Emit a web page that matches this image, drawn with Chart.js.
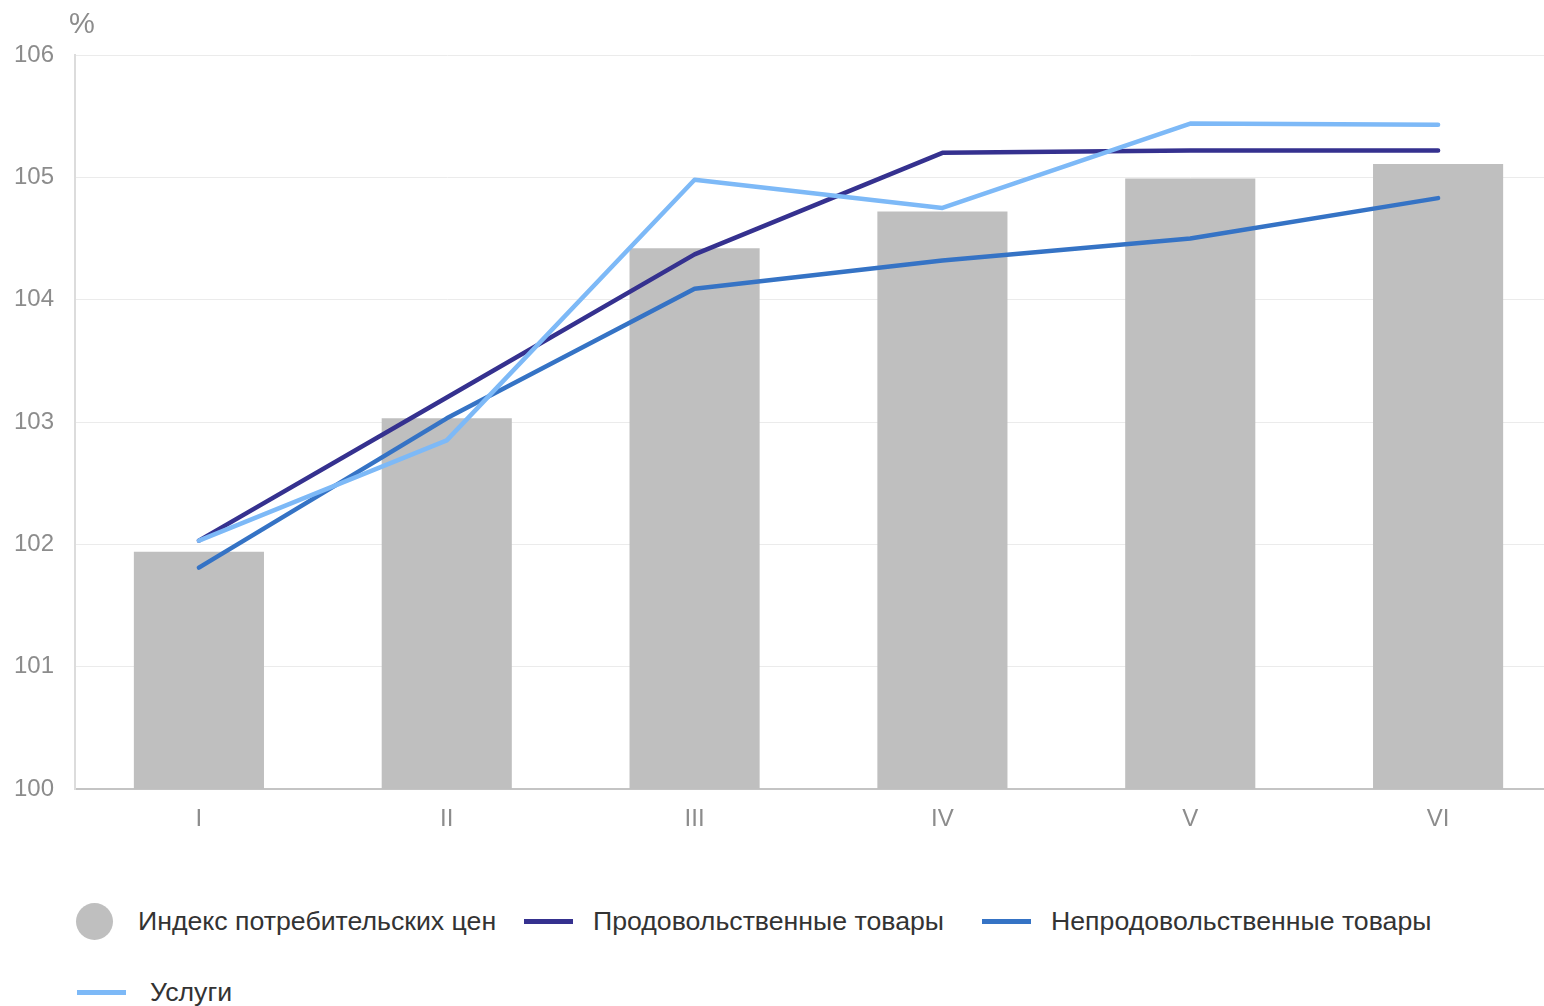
<!DOCTYPE html>
<html>
<head>
<meta charset="utf-8">
<script src="https://cdn.jsdelivr.net/npm/chart.js@4"></script>
<style>
  body { margin: 0; background: #fff; overflow: hidden; width: 1544px; height: 1006px; position: relative;
         font-family: "Liberation Sans", Arial, sans-serif; }
  #unit { position: absolute; left: 69px; top: 7px; font-size: 29px; color: #8c8c8c; }
  .item { position: absolute; display: flex; align-items: center; font-size: 26.7px; color: #333; white-space: nowrap; }
  .dot { width: 37px; height: 37px; border-radius: 50%; background: #bfbfbf; margin-right: 25px; }
  .ln { width: 49px; height: 5px; margin-right: 20px; }
</style>
</head>
<body>
<div id="unit">%</div>
<canvas id="grafico" width="1562" height="850"></canvas>
<div id="legenda"></div>
<script>
// Данные
const meses = ["I", "II", "III", "IV", "V", "VI"];
const ipc = [101.94, 103.03, 104.42, 104.72, 104.99, 105.11];
const prodTovary = [102.03, 103.2, 104.37, 105.2, 105.22, 105.22];
const neprodTovary = [101.81, 103.03, 104.09, 104.32, 104.5, 104.83];
const uslugi = [102.03, 102.85, 104.98, 104.75, 105.44, 105.43];

const cores = {
    ipc: "#bfbfbf",
    prod: "#35318f",
    neprod: "#3573c5",
    usl: "#7db9f7"
};

function linha(label, data, cor, ordem) {
    return {
        type: "line",
        label: label,
        data: data,
        borderColor: cor,
        backgroundColor: cor,
        borderWidth: 4.5,
        borderCapStyle: "round",
        borderJoinStyle: "round",
        pointRadius: 0,
        tension: 0,
        order: ordem
    };
}

const ctx = document.getElementById("grafico").getContext("2d");
new Chart(ctx, {
    data: {
        labels: meses,
        datasets: [
            {
                type: "bar",
                label: "Индекс потребительских цен",
                data: ipc,
                backgroundColor: cores.ipc,
                barPercentage: 0.525,
                categoryPercentage: 1,
                order: 10
            },
            linha("Продовольственные товары", prodTovary, cores.prod, 3),
            linha("Непродовольственные товары", neprodTovary, cores.neprod, 2),
            linha("Услуги", uslugi, cores.usl, 1)
        ]
    },
    options: {
        responsive: false,
        animation: false,
        layout: { padding: { top: 55, right: 0, bottom: 0, left: 0 } },
        plugins: {
            legend: { display: false },
            tooltip: { enabled: false }
        },
        scales: {
            x: {
                grid: { display: false, drawTicks: false },
                border: { color: "#c4c4c4", width: 2 },
                ticks: {
                    color: "#8c8c8c",
                    font: { family: "'Liberation Sans', Arial", size: 24 },
                    padding: 16
                },
                afterFit: s => { s.height = 61; }
            },
            y: {
                min: 100,
                max: 106,
                ticks: {
                    stepSize: 1,
                    color: "#8c8c8c",
                    font: { family: "'Liberation Sans', Arial", size: 24 },
                    padding: 21
                },
                grid: { color: "#ebebeb", lineWidth: 1, drawTicks: false },
                border: { color: "#dcdcdc", width: 2 },
                afterFit: s => { s.width = 75; }
            }
        }
    }
});

// Легенда
const legenda = document.getElementById("legenda");
const itens = [
    { texto: "Индекс потребительских цен", cor: cores.ipc, tipo: "dot", x: 76, y: 921 },
    { texto: "Продовольственные товары", cor: cores.prod, tipo: "ln", x: 524, y: 921 },
    { texto: "Непродовольственные товары", cor: cores.neprod, tipo: "ln", x: 982, y: 921 },
    { texto: "Услуги", cor: cores.usl, tipo: "ln", x: 77, y: 992 }
];
itens.forEach(it => {
    const el = document.createElement("div");
    el.className = "item";
    el.style.left = it.x + "px";
    el.style.top = (it.y - 20) + "px";
    el.style.height = "40px";
    const m = document.createElement("span");
    m.className = it.tipo;
    m.style.background = it.cor;
    if (it.tipo === "ln" && it.texto === "Услуги") m.style.marginRight = "24px";
    el.appendChild(m);
    const t = document.createElement("span");
    t.textContent = it.texto;
    el.appendChild(t);
    legenda.appendChild(el);
});
</script>
</body>
</html>
